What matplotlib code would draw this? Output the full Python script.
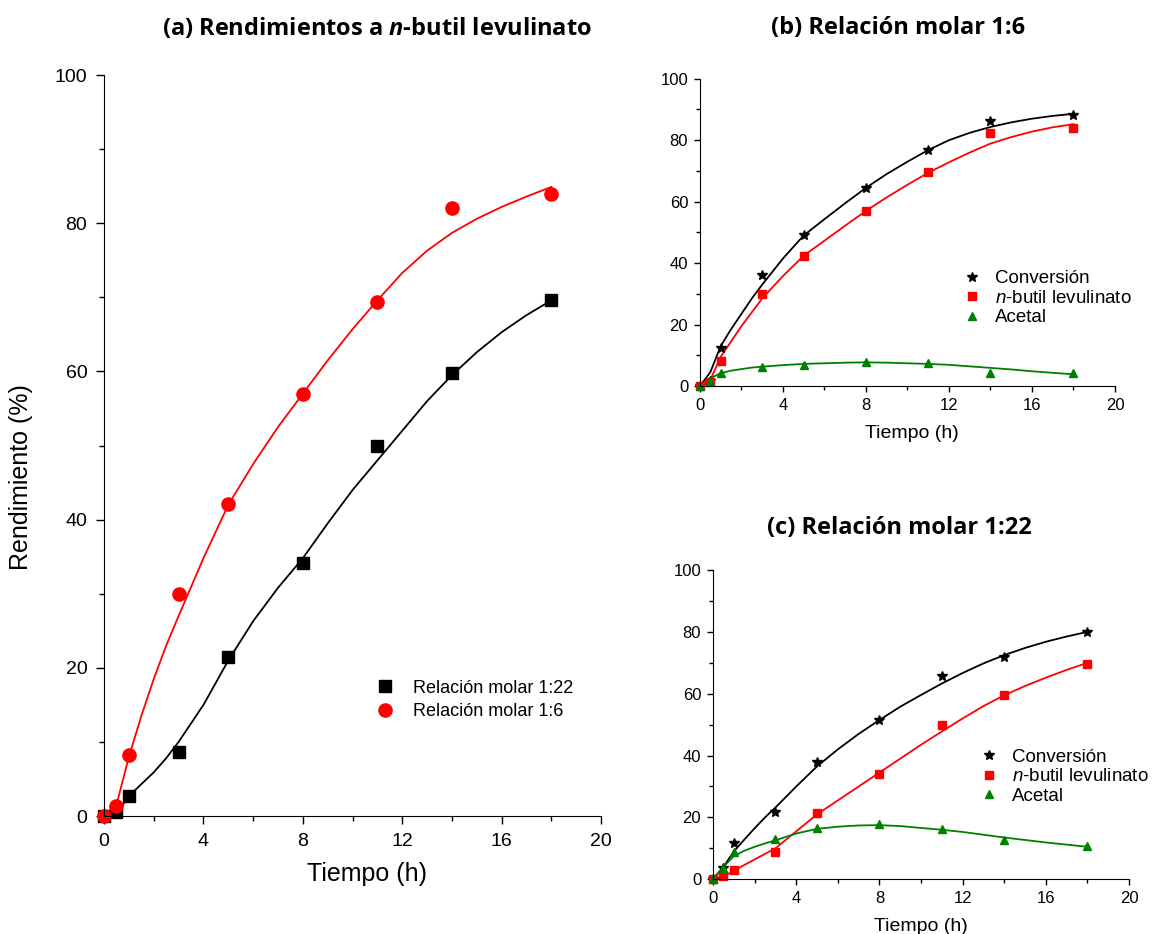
import matplotlib
matplotlib.use('Agg')
import matplotlib.pyplot as plt
from matplotlib.ticker import MultipleLocator

plt.rcParams['font.family'] = ['Liberation Sans', 'DejaVu Sans']
plt.rcParams['mathtext.fontset'] = 'custom'
plt.rcParams['mathtext.it'] = 'Liberation Sans:italic'
plt.rcParams['mathtext.rm'] = 'Liberation Sans'
plt.rcParams['mathtext.bfit'] = 'Open Sans:italic:bold'

# ---- datos medidos ----
tiempo = [0, 0.5, 1, 3, 5, 8, 11, 14, 18]

# (a) rendimientos
rend_122 = [0, 0.5, 2.7, 8.7, 21.5, 34.1, 50.0, 59.8, 69.7]
rend_16 = [0, 1.3, 8.3, 29.9, 42.1, 57.0, 69.3, 82.0, 84.0]

# (b) relación molar 1:6
conv_16 = [0, 1.5, 12.4, 36.1, 49.1, 64.5, 76.7, 86.2, 88.2]
butil_16 = [0, 1.4, 8.2, 30.1, 42.4, 57.0, 69.5, 82.2, 84.1]
acetal_16 = [0, 1.5, 4.1, 6.3, 7.0, 7.7, 7.4, 4.3, 4.1]

# (c) relación molar 1:22
conv_122 = [0, 3.5, 11.6, 21.7, 37.8, 51.5, 65.7, 71.8, 80.0]
butil_122 = [0, 1.2, 3.0, 8.7, 21.3, 34.0, 50.0, 59.6, 69.5]
acetal_122 = [0, 3.5, 8.9, 13.0, 16.7, 17.9, 16.2, 12.7, 10.8]

# ---- curvas de ajuste ----
t_fit = [0, 0.5, 1, 1.5, 2, 2.5, 3, 4, 5, 6, 7, 8, 9, 10, 11, 12, 13, 14, 15, 16, 17, 18]
fit_a_122 = [0, 0.3, 2.7, 4.3, 5.9, 7.8, 10.0, 15.0, 21.0, 26.3, 30.8, 34.8, 39.5, 44.0,
             48.0, 52.0, 56.0, 59.5, 62.6, 65.3, 67.6, 69.6]
fit_a_16 = [0, 1.5, 8.0, 13.5, 18.5, 23.0, 27.0, 34.8, 42.0, 47.5, 52.5, 57.0, 61.5, 65.7,
            69.6, 73.3, 76.3, 78.7, 80.6, 82.2, 83.6, 84.9]
fit_b_conv = [0, 4.5, 13.0, 18.5, 23.5, 28.5, 33.0, 41.5, 49.0, 54.3, 59.5, 64.5, 69.0, 73.0,
              76.8, 80.0, 82.4, 84.3, 85.8, 87.0, 87.9, 88.6]
fit_b_butil = [0, 2.0, 9.5, 14.5, 19.5, 24.0, 28.5, 35.8, 42.4, 47.3, 52.2, 57.0, 61.4, 65.5,
               69.4, 72.8, 76.0, 78.9, 81.0, 82.8, 84.2, 85.2]
fit_b_acetal = [0, 2.5, 4.2, 5.0, 5.5, 6.0, 6.3, 6.8, 7.2, 7.4, 7.6, 7.7, 7.6, 7.4,
                7.2, 6.9, 6.4, 5.9, 5.4, 4.8, 4.3, 3.8]
fit_c_conv = [0, 4.0, 9.0, 12.8, 16.5, 20.0, 23.2, 30.0, 36.5, 42.0, 47.0, 51.5, 55.8, 59.6,
              63.3, 66.7, 69.8, 72.5, 74.8, 76.8, 78.5, 80.0]
fit_c_butil = [0, 0.8, 2.8, 4.6, 6.4, 8.2, 10.0, 15.5, 21.0, 25.5, 30.0, 34.5, 39.0, 43.5,
               47.8, 52.0, 56.0, 59.5, 62.5, 65.2, 67.7, 70.0]
fit_c_acetal = [0, 4.0, 7.5, 9.2, 10.5, 11.6, 12.6, 14.8, 16.3, 17.0, 17.4, 17.5, 17.2, 16.6,
                16.0, 15.3, 14.4, 13.5, 12.7, 11.9, 11.2, 10.5]

GREEN = '#008000'
TITLE_FONT = 'Open Sans'
TITLE_SIZE = 17


def style_axes(ax, ticksize, ticklen, pad):
    ax.spines['top'].set_visible(False)
    ax.spines['right'].set_visible(False)
    ax.set_xlim(0, 20)
    ax.set_ylim(0, 100)
    ax.xaxis.set_major_locator(MultipleLocator(4))
    ax.xaxis.set_minor_locator(MultipleLocator(2))
    ax.yaxis.set_major_locator(MultipleLocator(20))
    ax.yaxis.set_minor_locator(MultipleLocator(10))
    ax.tick_params(which='major', direction='out', length=ticklen, width=1,
                   labelsize=ticksize, pad=pad)
    ax.tick_params(which='minor', direction='out', length=ticklen * 0.6, width=1)


fig = plt.figure(figsize=(11.56, 9.34), dpi=100)

# ---- (a) ----
ax1 = fig.add_axes([0.090, 0.1263, 0.430, 0.7934])
style_axes(ax1, 14, 6, 6)
ax1.plot(t_fit, fit_a_122, color='black', lw=1.3)
ax1.plot(t_fit, fit_a_16, color='red', lw=1.3)
ax1.plot(tiempo, rend_122, 's', color='black', ms=9, label='Relación molar 1:22', clip_on=False)
ax1.plot(tiempo, rend_16, 'o', color='red', ms=9.5, label='Relación molar 1:6', clip_on=False)
ax1.set_xlabel('Tiempo (h)', fontsize=18)
ax1.set_ylabel('Rendimiento (%)', fontsize=18)
ax1.xaxis.set_label_coords(0.53, -0.062)
ax1.yaxis.set_label_coords(-0.143, 0.457)
ax1.legend(loc='center left', bbox_to_anchor=(0.533, 0.157), frameon=False, fontsize=13,
           handletextpad=1.06, labelspacing=0.35, handlelength=1.0, borderaxespad=0)
fig.text(0.326, 0.970, r'(a) Rendimientos a $\mathbfit{n}$-butil levulinato',
         fontsize=TITLE_SIZE, fontweight='bold', family=TITLE_FONT, ha='center', va='center')

# ---- (b) ----
ax2 = fig.add_axes([0.6055, 0.5867, 0.359, 0.329])
style_axes(ax2, 12, 4.5, 4)
ax2.plot(t_fit, fit_b_conv, color='black', lw=1.3)
ax2.plot(t_fit, fit_b_butil, color='red', lw=1.3)
ax2.plot(t_fit, fit_b_acetal, color=GREEN, lw=1.3)
ax2.plot(tiempo, conv_16, '*', color='black', ms=7, label='Conversión', clip_on=False)
ax2.plot(tiempo, butil_16, 's', color='red', ms=5.5, label=r'$\mathit{n}$-butil levulinato', clip_on=False)
ax2.plot(tiempo, acetal_16, '^', color=GREEN, ms=6, label='Acetal', clip_on=False)
ax2.set_xlabel('Tiempo (h)', fontsize=14)
ax2.xaxis.set_label_coords(0.51, -0.127)
ax2.legend(loc='center left', bbox_to_anchor=(0.619, 0.286), frameon=False, fontsize=13.5,
           handletextpad=0.83, labelspacing=0.13, handlelength=0.8, borderaxespad=0)
fig.text(0.777, 0.970, '(b) Relación molar 1:6',
         fontsize=TITLE_SIZE, fontweight='bold', family=TITLE_FONT, ha='center', va='center')

# ---- (c) ----
ax3 = fig.add_axes([0.6168, 0.0586, 0.3599, 0.3311])
style_axes(ax3, 12, 4.5, 4)
ax3.plot(t_fit, fit_c_conv, color='black', lw=1.3)
ax3.plot(t_fit, fit_c_butil, color='red', lw=1.3)
ax3.plot(t_fit, fit_c_acetal, color=GREEN, lw=1.3)
ax3.plot(tiempo, conv_122, '*', color='black', ms=7, label='Conversión', clip_on=False)
ax3.plot(tiempo, butil_122, 's', color='red', ms=5.5, label=r'$\mathit{n}$-butil levulinato', clip_on=False)
ax3.plot(tiempo, acetal_122, '^', color=GREEN, ms=6, label='Acetal', clip_on=False)
ax3.set_xlabel('Tiempo (h)', fontsize=14)
ax3.xaxis.set_label_coords(0.50, -0.125)
ax3.legend(loc='center left', bbox_to_anchor=(0.627, 0.331), frameon=False, fontsize=13.5,
           handletextpad=0.83, labelspacing=0.13, handlelength=0.8, borderaxespad=0)
fig.text(0.778, 0.4347, '(c) Relación molar 1:22',
         fontsize=TITLE_SIZE, fontweight='bold', family=TITLE_FONT, ha='center', va='center')

fig.savefig('out.png', dpi=100)
